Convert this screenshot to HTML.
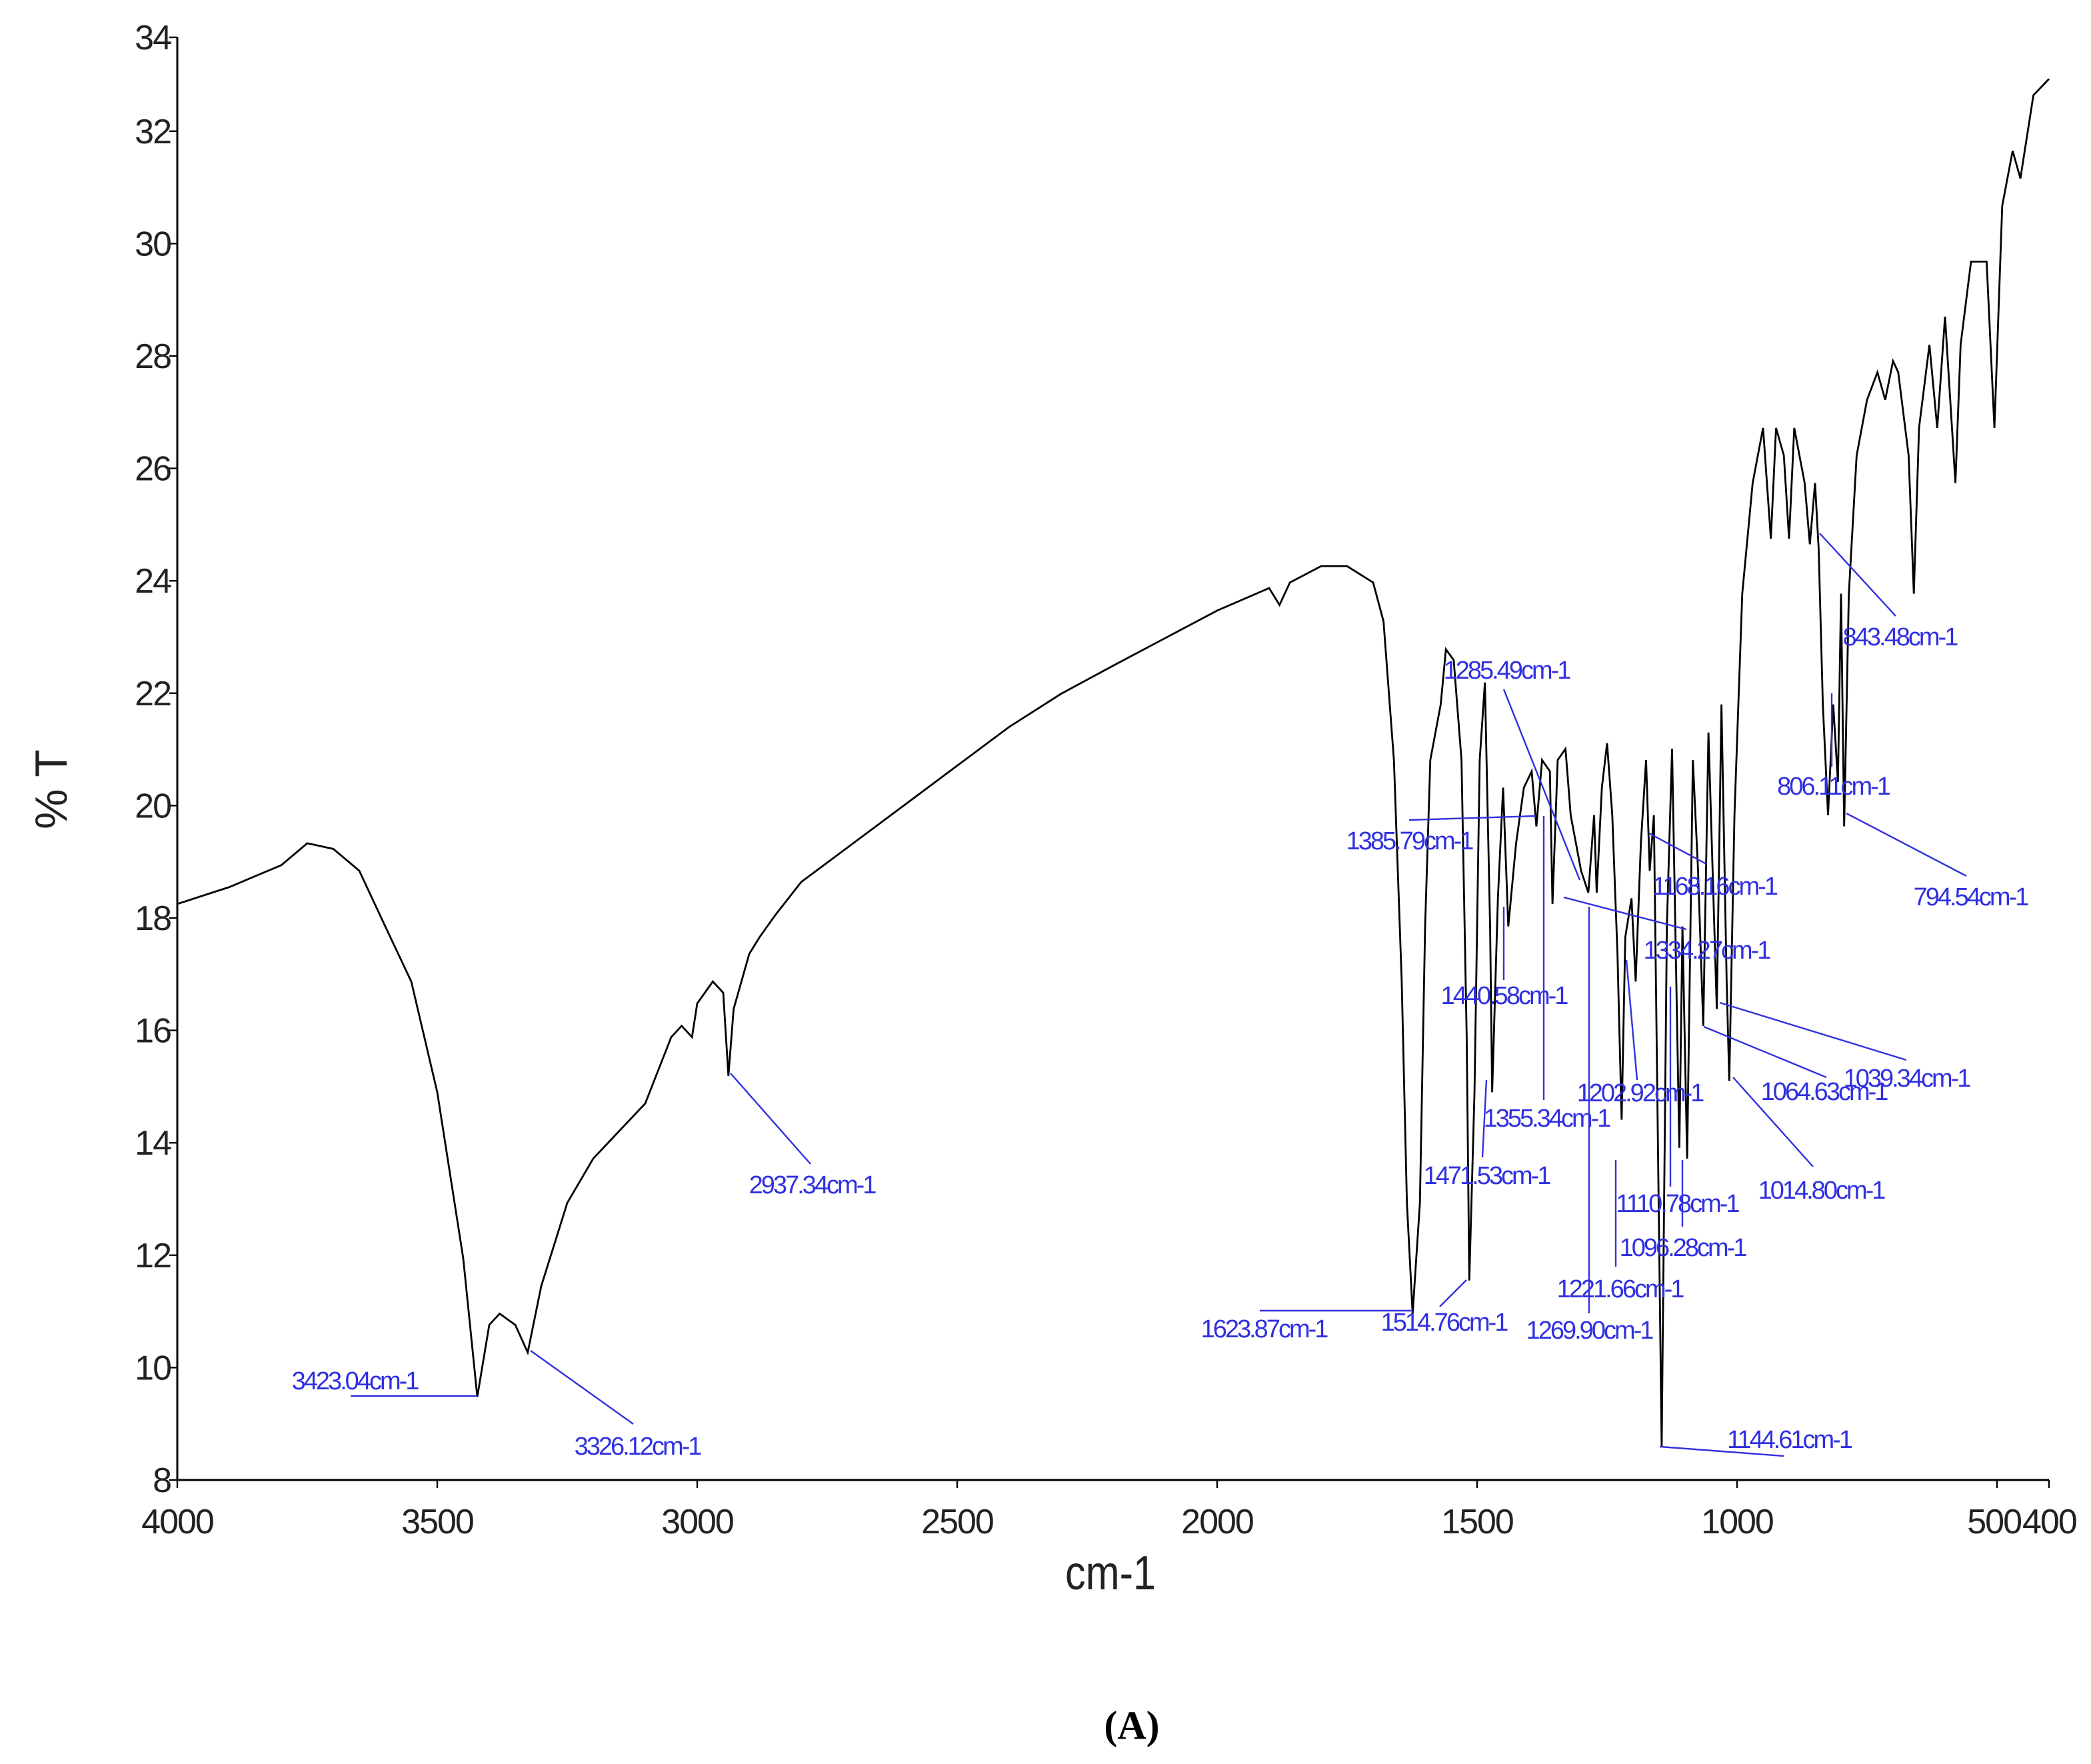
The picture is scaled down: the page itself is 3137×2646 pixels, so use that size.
<!DOCTYPE html>
<html><head><meta charset="utf-8"><style>
html,body{margin:0;padding:0;background:#fff;}
svg{display:block;}
text{font-family:"Liberation Sans",sans-serif;}
.ann{fill:#3030e0;font-size:19px;letter-spacing:-1.5px;}
.tick{font-size:26px;fill:#222;letter-spacing:-1px;}
</style></head><body>
<svg id="chart" width="3137" height="2646" viewBox="0 0 1568.5 1323" xmlns="http://www.w3.org/2000/svg">
<rect width="1568.5" height="1323" fill="#fff"/>
<g id="axes"></g>
<path id="spectrum" fill="none" stroke="#000" stroke-width="1.4"/>
<g id="annotations" stroke="#3030e0" stroke-width="1.2">
<line x1="263" y1="1047" x2="358" y2="1047"/>
<line x1="398" y1="1013" x2="475" y2="1068"/>
<line x1="548" y1="805" x2="608" y2="873"/>
<line x1="945" y1="983" x2="1060" y2="983"/>
<line x1="1080" y1="980" x2="1100" y2="960"/>
<line x1="1192" y1="985" x2="1192" y2="680"/>
<line x1="1212" y1="950" x2="1212" y2="870"/>
<line x1="1245" y1="1085" x2="1338" y2="1092"/>
<line x1="1262" y1="920" x2="1262" y2="870"/>
<line x1="1253" y1="890" x2="1253" y2="740"/>
<line x1="1300" y1="808" x2="1360" y2="875"/>
<line x1="1278" y1="770" x2="1370" y2="808"/>
<line x1="1290" y1="752" x2="1430" y2="795"/>
<line x1="1220" y1="720" x2="1228" y2="810"/>
<line x1="1173" y1="673" x2="1265" y2="697"/>
<line x1="1237" y1="625" x2="1280" y2="648"/>
<line x1="1158" y1="825" x2="1158" y2="612"/>
<line x1="1128" y1="735" x2="1128" y2="680"/>
<line x1="1112" y1="868" x2="1115" y2="810"/>
<line x1="1057" y1="615" x2="1152" y2="612"/>
<line x1="1128" y1="517" x2="1185" y2="660"/>
<line x1="1365" y1="400" x2="1422" y2="462"/>
<line x1="1374" y1="575" x2="1374" y2="520"/>
<line x1="1385" y1="610" x2="1475" y2="657"/>
</g>
<g text-anchor="middle">
<text class="ann" x="266" y="1042">3423.04cm-1</text>
<text class="ann" x="478" y="1091">3326.12cm-1</text>
<text class="ann" x="609" y="895">2937.34cm-1</text>
<text class="ann" x="948" y="1003">1623.87cm-1</text>
<text class="ann" x="1083" y="998">1514.76cm-1</text>
<text class="ann" x="1192" y="1004">1269.90cm-1</text>
<text class="ann" x="1215" y="973">1221.66cm-1</text>
<text class="ann" x="1342" y="1086">1144.61cm-1</text>
<text class="ann" x="1262" y="942">1096.28cm-1</text>
<text class="ann" x="1258" y="909">1110.78cm-1</text>
<text class="ann" x="1366" y="899">1014.80cm-1</text>
<text class="ann" x="1368" y="825">1064.63cm-1</text>
<text class="ann" x="1430" y="815">1039.34cm-1</text>
<text class="ann" x="1230" y="826">1202.92cm-1</text>
<text class="ann" x="1280" y="719">1334.27cm-1</text>
<text class="ann" x="1286" y="671">1168.16cm-1</text>
<text class="ann" x="1160" y="845">1355.34cm-1</text>
<text class="ann" x="1128" y="753">1440.58cm-1</text>
<text class="ann" x="1115" y="888">1471.53cm-1</text>
<text class="ann" x="1057" y="637">1385.79cm-1</text>
<text class="ann" x="1130" y="509">1285.49cm-1</text>
<text class="ann" x="1425" y="484">843.48cm-1</text>
<text class="ann" x="1375" y="596">806.11cm-1</text>
<text class="ann" x="1478" y="679">794.54cm-1</text>
</g>
<text x="833" y="1192" text-anchor="middle" font-size="36" fill="#222" transform="translate(833 0) scale(0.85 1) translate(-833 0)">cm-1</text>
<text transform="translate(50 592) rotate(-90)" text-anchor="middle" font-size="34" fill="#222">% T</text>
<text x="849" y="1304" text-anchor="middle" font-size="30" font-weight="bold" style="font-family:'Liberation Serif',serif">(A)</text>
</svg>
<script>
const wavenumbers=[4000,3900,3800,3750,3700,3650,3600,3550,3500,3450,3423,3400,3380,3350,3326,3300,3250,3200,3150,3100,3050,3030,3010,3000,2970,2950,2940,2930,2900,2880,2850,2800,2700,2600,2500,2400,2300,2200,2100,2000,1900,1880,1860,1800,1750,1700,1680,1660,1645,1635,1624,1610,1600,1590,1570,1560,1545,1530,1520,1515,1505,1495,1485,1475,1471,1460,1450,1440,1425,1410,1395,1386,1375,1360,1355,1345,1330,1320,1300,1286,1275,1270,1260,1250,1240,1230,1222,1215,1203,1195,1185,1175,1168,1160,1145,1135,1125,1111,1105,1096,1085,1075,1065,1055,1039,1030,1020,1015,1005,990,970,950,935,925,910,900,890,870,860,850,843,835,825,815,806,800,794,785,770,750,730,715,700,690,670,660,650,630,615,600,580,570,550,520,505,490,470,455,430,400];
const transmittance=[18.25,18.55,18.94,19.33,19.23,18.84,17.85,16.87,14.9,11.94,9.48,10.76,10.96,10.76,10.27,11.45,12.93,13.72,14.21,14.7,15.88,16.08,15.88,16.48,16.87,16.67,15.19,16.38,17.36,17.66,18.05,18.64,19.33,20.02,20.71,21.4,21.99,22.49,22.98,23.47,23.87,23.57,23.97,24.26,24.26,23.97,23.28,20.81,16.87,12.93,10.96,12.93,17.85,20.81,21.8,22.78,22.59,20.81,15.88,11.55,14.9,20.81,22.19,17.85,14.9,18.35,20.32,17.85,19.33,20.32,20.61,19.63,20.81,20.61,18.25,20.81,21.01,19.83,18.84,18.45,19.83,18.45,20.32,21.11,19.83,17.36,14.41,17.66,18.35,16.87,19.33,20.81,18.84,19.83,8.59,17.85,21.01,13.91,17.85,13.72,20.81,18.84,16.08,21.3,16.38,21.8,16.87,15.1,19.83,23.77,25.74,26.72,24.75,26.72,26.23,24.75,26.72,25.74,24.65,25.74,24.56,21.8,19.83,21.8,20.42,23.77,19.63,23.77,26.23,27.22,27.71,27.22,27.91,27.71,26.23,23.77,26.72,28.2,26.72,28.7,25.74,28.2,29.68,29.68,26.72,30.67,31.65,31.16,32.64,32.93];
const xTicks=[4000,3500,3000,2500,2000,1500,1000,500,400];
const xTickLabels=["4000","3500","3000","2500","2000","1500","1000","500","400"];
const yTicks=[8,10,12,14,16,18,20,22,24,26,28,30,32,34];
const yTickLabels=["8","10","12","14","16","18","20","22","24","26","28","30","32","34"];
const X=v=>133+(4000-v)*0.39;
const Y=t=>1110-(t-8)*42.15;
const YTOP=28;
const NS="http://www.w3.org/2000/svg";
const axes=document.getElementById('axes');
function mk(tag,attrs){const e=document.createElementNS(NS,tag);for(const k in attrs)e.setAttribute(k,attrs[k]);return e;}
const yAxis=mk('line',{x1:133,y1:YTOP,x2:133,y2:Y(8),stroke:'#000','stroke-width':1.5});


axes.appendChild(yAxis);
const xAxis=mk('line',{x1:133,y1:Y(8),x2:X(400),y2:Y(8),stroke:'#000','stroke-width':1.5});


axes.appendChild(xAxis);
yTicks.forEach((t,i)=>{
  const yy=Math.max(YTOP,Y(t));
  const tk=mk('line',{x1:127,y1:yy,x2:133,y2:yy,stroke:'#000','stroke-width':1.2});
  
  
  axes.appendChild(tk);
  const tx=mk('text',{x:128,y:yy+9,'text-anchor':'end',class:'tick'});
  
  
  tx.textContent=yTickLabels[i];axes.appendChild(tx);
});
xTicks.forEach((v,i)=>{
  const tk=mk('line',{x1:X(v),y1:Y(8),x2:X(v),y2:Y(8)+6,stroke:'#000','stroke-width':1.2});
  
  
  axes.appendChild(tk);
  let anchor='middle',dx=0;
  if(v===500){anchor='end';dx=18;}
  if(v===400){anchor='start';dx=-20;}
  const tx=mk('text',{x:X(v)+dx,y:Y(8)+40,'text-anchor':anchor,class:'tick'});
  
  
  tx.textContent=xTickLabels[i];axes.appendChild(tx);
});
let d='';
wavenumbers.forEach((w,i)=>{d+=(i?'L':'M')+X(w).toFixed(2)+' '+Y(transmittance[i]).toFixed(2);});
document.getElementById('spectrum').setAttribute('d',d);
</script>
</body></html>
